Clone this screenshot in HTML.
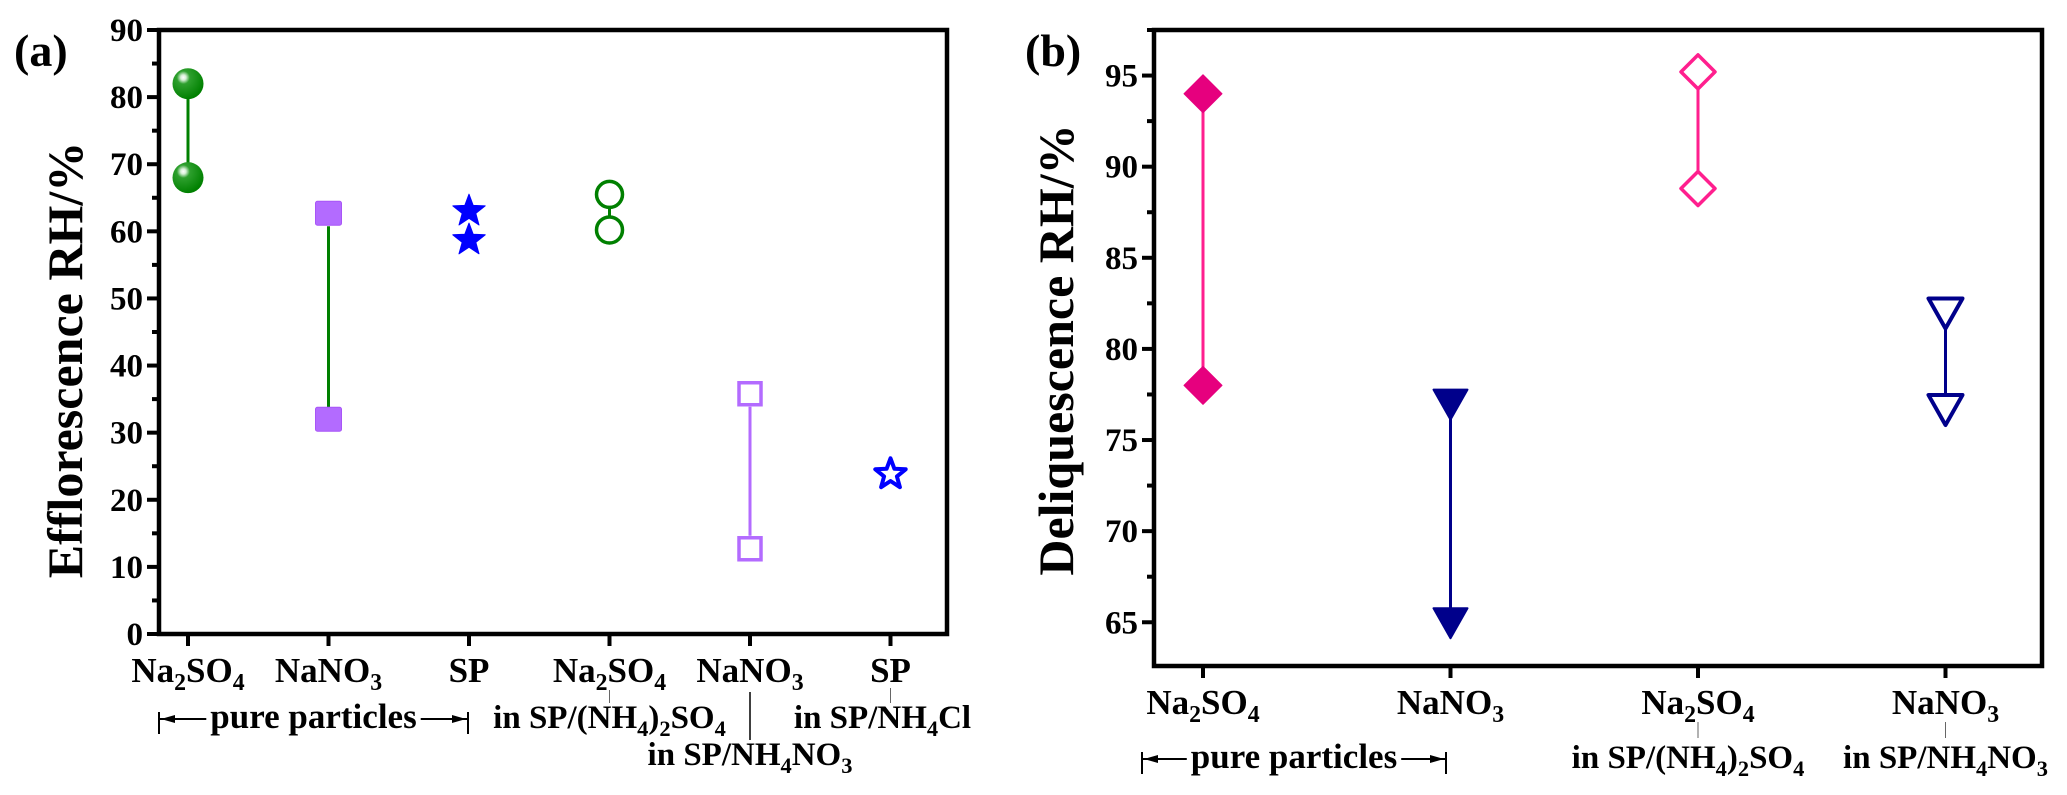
<!DOCTYPE html>
<html><head><meta charset="utf-8">
<style>
html,body{margin:0;padding:0;background:#fff;}
svg{display:block;font-family:"Liberation Serif",serif;font-weight:bold;}
</style></head>
<body>
<svg id="chart" width="2067" height="795" viewBox="0 0 2067 795" xmlns="http://www.w3.org/2000/svg" font-family="Liberation Serif, serif" font-weight="bold">
<defs>
<radialGradient id="sph" cx="0.35" cy="0.3" r="0.7">
<stop offset="0" stop-color="#ffffff"/><stop offset="0.12" stop-color="#d8f0d8"/><stop offset="0.3" stop-color="#2ea02e"/><stop offset="1" stop-color="#008000"/>
</radialGradient>
</defs>
<g id="pa"></g>
<g id="pb"></g>
</svg>
<script>
// Panel A data (efflorescence RH)
const catsA = ["Na2SO4","NaNO3","SP","Na2SO4 mix","NaNO3 mix","SP mix"];
const effHigh = [82, 62.7, 63, 65.5, 35.8, 23.8];
const effLow  = [68, 32, 58.7, 60.2, 12.7, null];
const ticksA = [0,10,20,30,40,50,60,70,80,90];
// Panel B data (deliquescence RH)
const catsB = ["Na2SO4","NaNO3","Na2SO4 mix","NaNO3 mix"];
const delHigh = [94, 77, 95.2, 82];
const delLow  = [78, 65, 88.8, 76.7];
const ticksB = [65,70,75,80,85,90,95];

const NS="http://www.w3.org/2000/svg";
function mk(parent,tag,attrs,text){const e=document.createElementNS(NS,tag);for(const k in attrs)e.setAttribute(k,attrs[k]);if(text!==undefined)e.textContent=text;parent.appendChild(e);return e;}

const A={l:159,r:947,t:30,b:634,ymin:0,ymax:90,x0:188,dx:140.5};
const B={l:1154,r:2042,t:30,b:666,ymin:62.6,ymax:97.5,x0:1203,dx:247.5};
const yA=v=>A.b-(v-A.ymin)/(A.ymax-A.ymin)*(A.b-A.t);
const xA=i=>A.x0+i*A.dx;
const yB=v=>B.b-(v-B.ymin)/(B.ymax-B.ymin)*(B.b-B.t);
const xB=i=>B.x0+i*B.dx;

function frame(g,P,ticks,yf,minStep,nCats,xf){
  const r=mk(g,'rect',{x:P.l,y:P.t,width:P.r-P.l,height:P.b-P.t,fill:'none',stroke:'#000','stroke-width':4.5});
  
  
  for(let v=Math.ceil(P.ymin/minStep)*minStep; v<=P.ymax; v+=minStep){
    const major=ticks.includes(v);
    const t=mk(g,'line',{x1:P.l-(major?12:7),x2:P.l,y1:yf(v),y2:yf(v),stroke:'#000','stroke-width':4});
    
    
  }
  ticks.forEach(v=>{
    const t=mk(g,'text',{x:P.l-16,y:yf(v)+11,'text-anchor':'end','font-size':33},String(v));
    
    
  });
  for(let i=0;i<nCats;i++){
    const t=mk(g,'line',{x1:xf(i),x2:xf(i),y1:P.b,y2:P.b+12,stroke:'#000','stroke-width':4});
    
    
  }
}
function vline(g,x,y1,y2,c,w){const l=mk(g,'line',{x1:x,x2:x,y1:y1,y2:y2,stroke:c,'stroke-width':w||3});return l;}
function star(g,cx,cy,R,fill,stroke,sw){
  let p=[];for(let k=0;k<10;k++){const rr=k%2?R*0.42:R;const a=-Math.PI/2+k*Math.PI/5;p.push((cx+rr*Math.cos(a)).toFixed(1)+','+(cy+rr*Math.sin(a)).toFixed(1));}
  const s=mk(g,'polygon',{points:p.join(' '),fill:fill,stroke:stroke,'stroke-width':sw||0,'stroke-linejoin':'round'});
  
  
}
function diamond(g,cx,cy,R,fill,stroke,sw){
  const d=mk(g,'polygon',{points:`${cx},${cy-R} ${cx+R},${cy} ${cx},${cy+R} ${cx-R},${cy}`,fill:fill,stroke:stroke,'stroke-width':sw,'stroke-linejoin':'round'});
  
  
}
function tri(g,cx,cy,fill,stroke,sw){
  const d=mk(g,'polygon',{points:`${cx-17},${cy-14} ${cx+17},${cy-14} ${cx},${cy+16}`,fill:fill,stroke:stroke,'stroke-width':sw,'stroke-linejoin':'round'});
  
  
}
function label(g,x,y,parts,size,anchor){
  const t=mk(g,'text',{x:x,y:y,'text-anchor':anchor||'middle','font-size':size});
  parts.forEach(p=>{
    if(typeof p==='string'){mk(t,'tspan',{},p);}
    else{mk(t,'tspan',{'font-size':size*0.68,dy:p.dy||8},p.s); mk(t,'tspan',{dy:-(p.dy||8),'font-size':size},'\u200b');}
  });
  
  
  return t;
}
function bracket(g,x1,x2,y,txt,size){
  const c='#000';
  vline(g,x1,y-16,y+6,c,2);
  vline(g,x2,y-16,y+6,c,2);
  const t=mk(g,'text',{x:(x1+x2)/2,y:y,'text-anchor':'middle','font-size':size},txt);
  
  
  const bb=t.getBBox();
  const ay=y-9;
  const l1=mk(g,'line',{x1:x1,x2:bb.x-4,y1:ay,y2:ay,stroke:c,'stroke-width':2});
  
  
  mk(g,'polygon',{points:`${x1+2},${ay} ${x1+16},${ay-4} ${x1+16},${ay+4}`,fill:c});
  const l2=mk(g,'line',{x1:bb.x+bb.width+4,x2:x2,y1:ay,y2:ay,stroke:c,'stroke-width':2});
  
  
  mk(g,'polygon',{points:`${x2-2},${ay} ${x2-16},${ay-4} ${x2-16},${ay+4}`,fill:c});
}

// ---------- Panel A ----------
const ga=document.getElementById('pa');
frame(ga,A,ticksA,yA,5,catsA.length,xA);
const ta=mk(ga,'text',{x:0,y:0,'text-anchor':'middle','font-size':50,transform:`translate(82,${(A.t+A.b)/2+28}) rotate(-90)`},'Efflorescence RH/%');


const la=mk(ga,'text',{x:14,y:66,'font-size':46},'(a)');


vline(ga,xA(0),yA(effHigh[0]),yA(effLow[0]),'#008000',3);
vline(ga,xA(1),yA(effHigh[1])+13,yA(effLow[1])-5,'#008000',3);
vline(ga,xA(3),yA(effHigh[3])+14,yA(effLow[3])-14,'#008000',3);
vline(ga,xA(4),yA(effHigh[4])+13,yA(effLow[4])-13,'#b36bff',3);
[effHigh[0],effLow[0]].forEach(v=>{const c=mk(ga,'circle',{cx:xA(0),cy:yA(v),r:15.5,fill:'url(#sph)'});});
[effHigh[1],effLow[1]].forEach(v=>{const c=mk(ga,'rect',{x:xA(1)-13,y:yA(v)-12,width:26,height:24,rx:2,fill:'#b36bff',stroke:'#a855f7','stroke-width':1});});
[effHigh[2],effLow[2]].forEach(v=>star(ga,xA(2),yA(v),17,'#0000ff','#0000ff',1));
[effHigh[3],effLow[3]].forEach(v=>{const c=mk(ga,'circle',{cx:xA(3),cy:yA(v),r:13,fill:'none',stroke:'#008000','stroke-width':3.5});});
[effHigh[4],effLow[4]].forEach(v=>{const c=mk(ga,'rect',{x:xA(4)-11,y:yA(v)-11,width:22,height:22,fill:'none',stroke:'#b36bff','stroke-width':3.5});});
star(ga,xA(5),yA(effHigh[5]),16,'#ffffff','#0000ff',4);
label(ga,xA(0),682,['Na',{s:'2'},'SO',{s:'4'}],35);
label(ga,xA(1),682,['NaNO',{s:'3'}],35);
label(ga,xA(2),682,['SP'],35);
label(ga,xA(3),682,['Na',{s:'2'},'SO',{s:'4'}],35);
label(ga,xA(4),682,['NaNO',{s:'3'}],35);
label(ga,xA(5),682,['SP'],35);
vline(ga,xA(3),690,703,'#666',1);
vline(ga,xA(4),692,740,'#000',1.5);
vline(ga,xA(5),688,703,'#666',1);
label(ga,xA(3),728,['in SP/(NH',{s:'4'},')',{s:'2'},'SO',{s:'4'}],33);
label(ga,xA(5)-8,728,['in SP/NH',{s:'4'},'Cl'],33);
label(ga,xA(4),765,['in SP/NH',{s:'4'},'NO',{s:'3'}],33);
bracket(ga,159,468,728,'pure particles',35);

// ---------- Panel B ----------
const gb=document.getElementById('pb');
frame(gb,B,ticksB,yB,2.5,catsB.length,xB);
const tb=mk(gb,'text',{x:0,y:0,'text-anchor':'middle','font-size':50,transform:`translate(1073,${(B.t+B.b)/2+2}) rotate(-90)`},'Deliquescence RH/%');


const lb=mk(gb,'text',{x:1025,y:66,'font-size':46},'(b)');


vline(gb,xB(0),yB(delHigh[0]),yB(delLow[0]),'#ff1f8e',3);
vline(gb,xB(1),yB(delHigh[1]),yB(delLow[1]),'#00008b',3);
vline(gb,xB(2),yB(delHigh[2])+17,yB(delLow[2])-17,'#ff1f8e',3);
vline(gb,xB(3),yB(delHigh[3])+14,yB(delLow[3])-14,'#00008b',3);
[delHigh[0],delLow[0]].forEach(v=>diamond(gb,xB(0),yB(v),19,'#e6007e','#e6007e',1));
[delHigh[1],delLow[1]].forEach(v=>tri(gb,xB(1),yB(v),'#00008b','#00008b',2));
[delHigh[2],delLow[2]].forEach(v=>diamond(gb,xB(2),yB(v),17,'none','#ff1f8e',3.5));
[delHigh[3],delLow[3]].forEach(v=>tri(gb,xB(3),yB(v),'none','#00008b',4));
label(gb,xB(0),714,['Na',{s:'2'},'SO',{s:'4'}],35);
label(gb,xB(1),714,['NaNO',{s:'3'}],35);
label(gb,xB(2),714,['Na',{s:'2'},'SO',{s:'4'}],35);
label(gb,xB(3),714,['NaNO',{s:'3'}],35);
vline(gb,xB(2),722,738,'#666',1);
vline(gb,xB(3),722,738,'#666',1);
label(gb,xB(2)-10,768,['in SP/(NH',{s:'4'},')',{s:'2'},'SO',{s:'4'}],33);
label(gb,xB(3),768,['in SP/NH',{s:'4'},'NO',{s:'3'}],33);
bracket(gb,1142,1446,768,'pure particles',35);
</script>
</body></html>
